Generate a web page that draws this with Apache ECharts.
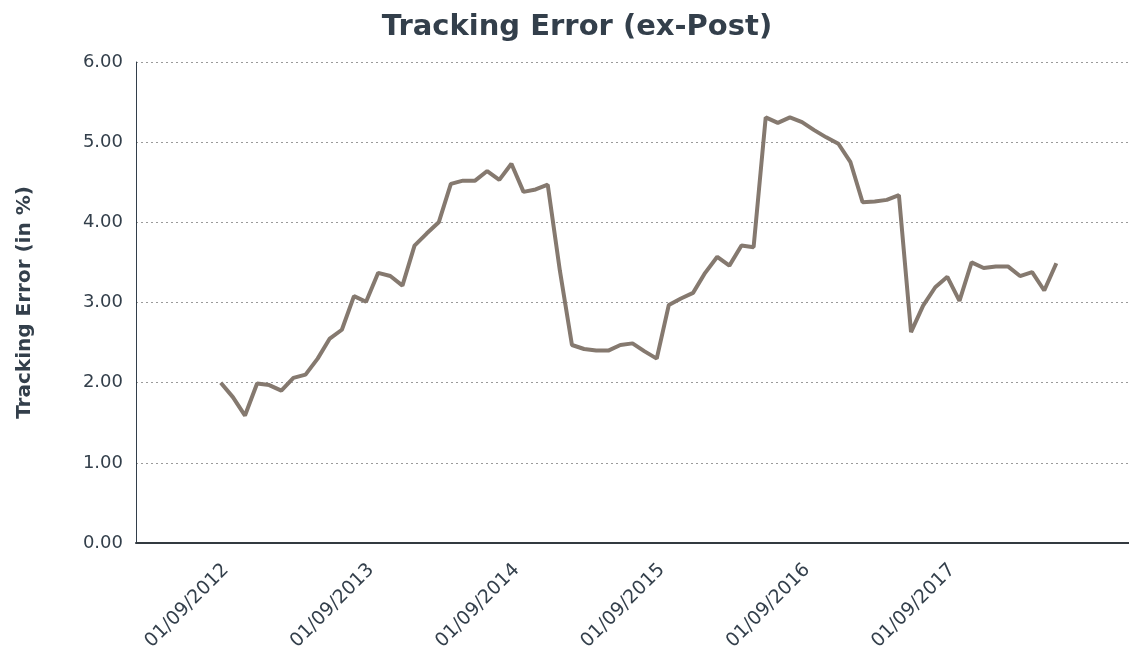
<!DOCTYPE html>
<html>
<head>
<meta charset="utf-8">
<title>Tracking Error (ex-Post)</title>
<script src="https://cdn.jsdelivr.net/npm/echarts@6/dist/echarts.min.js"></script>
<style>
  html, body { margin: 0; padding: 0; background: #fff; }
  #chart { width: 1129px; height: 650px; }
</style>
</head>
<body>
<div id="chart"></div>
<script>
  // axis runs monthly from 01/01/2012 to 01/11/2018, data from 01/08/2012 to 01/05/2018
  const axisStart = { year: 2012, month: 1 };
  const axisEnd = { year: 2018, month: 11 };
  const dataStart = '01/08/2012';

  const tickLabels = ['01/09/2012', '01/09/2013', '01/09/2014', '01/09/2015', '01/09/2016', '01/09/2017'];

  const trackingError = [
    2.00, 1.82, 1.59, 1.99, 1.97, 1.90, 2.06, 2.10, 2.30, 2.55,
    2.66, 3.08, 3.01, 3.37, 3.33, 3.21, 3.71, 3.86, 4.00, 4.48,
    4.52, 4.52, 4.64, 4.53, 4.73, 4.38, 4.41, 4.47, 3.40, 2.47,
    2.42, 2.40, 2.40, 2.47, 2.49, 2.39, 2.30, 2.97, 3.05, 3.12,
    3.37, 3.57, 3.46, 3.71, 3.69, 5.31, 5.24, 5.31, 5.25, 5.15,
    5.06, 4.98, 4.75, 4.25, 4.26, 4.28, 4.34, 2.63, 2.96, 3.19,
    3.32, 3.02, 3.50, 3.43, 3.45, 3.45, 3.33, 3.38, 3.15, 3.49
  ];

  const yTicks = { min: 0, max: 6, interval: 1 };

  function buildCategories() {
    const list = [];
    let y = axisStart.year;
    let m = axisStart.month;
    while (y < axisEnd.year || (y === axisEnd.year && m <= axisEnd.month)) {
      list.push(`01/${String(m).padStart(2, '0')}/${y}`);
      m += 1;
      if (m > 12) { m = 1; y += 1; }
    }
    return list;
  }

  const categories = buildCategories();
  const offset = categories.indexOf(dataStart);
  const seriesData = categories.map((c, i) => {
    const k = i - offset;
    return k >= 0 && k < trackingError.length ? trackingError[k] : null;
  });

  const textColor = '#333f4b';
  const font = 'DejaVu Sans';

  const chart = echarts.init(document.getElementById('chart'), null, { renderer: 'canvas' });
  chart.setOption({
    animation: false,
    backgroundColor: '#fff',
    title: {
      text: 'Tracking Error (ex-Post)',
      left: 572,
      textAlign: 'center',
      top: 8,
      textStyle: { fontFamily: font, fontSize: 29, fontWeight: 'bold', color: textColor },
    },
    grid: { left: 136, right: 0, top: 62, bottom: 107, outerBoundsMode: 'none' },
    xAxis: {
      type: 'category',
      boundaryGap: false,
      data: categories,
      axisLine: { lineStyle: { color: '#333a40', width: 2 } },
      axisTick: { show: false },
      splitLine: { show: false },
      axisLabel: {
        rotate: 45,
        margin: 17,
        padding: [0, 10, 0, 0],
        fontFamily: font,
        fontSize: 19,
        color: textColor,
        interval: (i, v) => tickLabels.includes(v),
      },
    },
    yAxis: {
      type: 'value',
      min: yTicks.min,
      max: yTicks.max,
      interval: yTicks.interval,
      name: 'Tracking Error (in %)',
      nameLocation: 'middle',
      nameGap: 101,
      nameTextStyle: { fontFamily: font, fontSize: 20, fontWeight: 'bold', color: textColor },
      axisLine: { show: true, lineStyle: { color: '#333f4b', width: 1 } },
      axisTick: { show: false },
      axisLabel: {
        margin: 13,
        fontFamily: font,
        fontSize: 18,
        color: textColor,
        formatter: (v) => v.toFixed(2),
      },
      splitLine: { lineStyle: { color: '#9a9a9a', type: [2, 3], width: 1 } },
    },
    series: [
      {
        name: 'Tracking Error',
        type: 'line',
        data: seriesData,
        symbol: 'none',
        lineStyle: { color: '#85796f', width: 4 },
        connectNulls: false,
      },
    ],
  });
</script>
</body>
</html>
